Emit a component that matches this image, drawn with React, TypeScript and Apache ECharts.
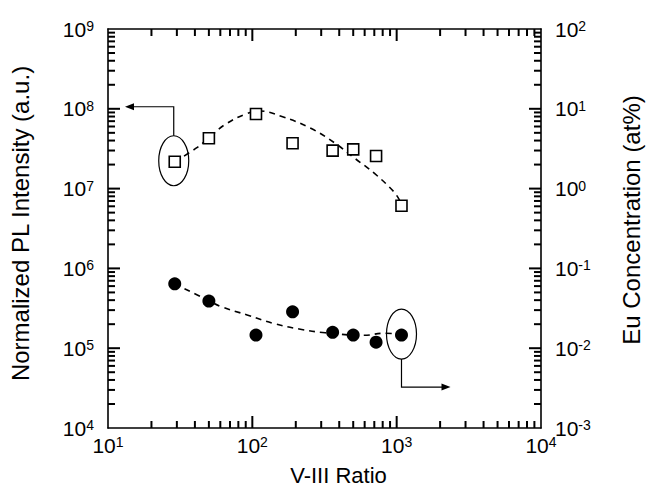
import React, { useEffect, useRef } from "react";
import * as echarts from "echarts";

// ---- data ----
const ratio = [29, 50, 106, 190, 360, 500, 720, 1080];
const plIntensity = [2.17e7, 4.27e7, 8.6e7, 3.7e7, 2.99e7, 3.1e7, 2.56e7, 6.1e6];
const euConc = [0.064, 0.039, 0.0146, 0.0286, 0.0158, 0.0146, 0.0119, 0.0146];

// dashed guide curves
const plFitX = [29, 41, 50, 64, 90, 113, 162, 254, 375, 512, 699, 955, 1047];
const plFitY = [2.17e7, 3.23e7, 4.31e7, 6.27e7, 8.61e7, 9.38e7, 7.96e7, 5.7e7, 3.7e7, 2.4e7, 1.56e7, 9.15e6, 7.19e6];
const euFitX = [29, 50, 61, 92, 139, 211, 320, 596, 813, 1064];
const euFitY = [0.064, 0.0394, 0.0331, 0.0261, 0.0205, 0.0174, 0.0156, 0.0145, 0.0154, 0.0151];

// axis structure
const X_MIN = 10, X_MAX = 10000, Y_MIN = 1e4, Y_MAX = 1e9;
const xMajor = [100, 1000];
const yMajor = [1e5, 1e6, 1e7, 1e8];
const minorMults = [2, 3, 4, 5, 6, 7, 8, 9];
const xMinor = [10, 100, 1000].flatMap((d) => minorMults.map((m) => m * d));
const yMinor = [1e4, 1e5, 1e6, 1e7, 1e8].flatMap((d) => minorMults.map((m) => m * d));

const FONT = "Liberation Sans, Arial, Helvetica, sans-serif";

const labelCfg = (margin: number) => ({
  margin,
  formatter: (v: number) => `{b|10}{s|${Math.round(Math.log10(v))}}`,
  rich: {
    b: { fontSize: 21, fontFamily: FONT, color: "#000", lineHeight: 20, padding: [4, 0, 4, 0] },
    s: { fontSize: 14, fontFamily: FONT, color: "#000", lineHeight: 14, verticalAlign: "top" },
  },
});

const TW = 2;
const TICK_COLOR = "#000";
const axisLineCfg = () => ({ show: true, lineStyle: { color: "#000", width: 1.6 } });

const tickSeries = (data: number[][], size: number[], offset: number[]) => ({
  type: "scatter", symbol: "rect", symbolSize: size, symbolOffset: offset, clip: false,
  itemStyle: { color: TICK_COLOR, opacity: 1 },
  data,
});

export default function App() {
  const ref = useRef<HTMLDivElement>(null);
  useEffect(() => {
    if (!ref.current) return;
    const chart = echarts.init(ref.current, null, { renderer: "svg" });
    const option: any = {
      animation: false,
      backgroundColor: "#fff",
      grid: { left: 104, right: 103, top: 29, bottom: 69 },
      xAxis: [
        {
          type: "log", logBase: 10, min: X_MIN, max: X_MAX, position: "bottom",
          axisLine: axisLineCfg(), axisTick: { show: false }, splitLine: { show: false },
          axisLabel: labelCfg(7),
          name: "V-III Ratio", nameLocation: "middle", nameGap: 35,
          nameTextStyle: { fontSize: 22, fontFamily: FONT, color: "#000", padding: [0, 0, 0, 28] },
        },
        {
          type: "log", logBase: 10, min: X_MIN, max: X_MAX, position: "top",
          axisLine: axisLineCfg(), axisTick: { show: false }, splitLine: { show: false },
          axisLabel: { show: false },
        },
      ],
      yAxis: [
        {
          type: "log", logBase: 10, min: Y_MIN, max: Y_MAX, position: "left",
          axisLine: axisLineCfg(), axisTick: { show: false }, splitLine: { show: false },
          axisLabel: labelCfg(14),
          name: "Normalized PL Intensity (a.u.)", nameLocation: "middle", nameGap: 76, nameRotate: 90,
          nameTextStyle: { fontSize: 24, fontFamily: FONT, color: "#000", padding: [0, 0, 0, 10] },
        },
        {
          type: "log", logBase: 10, min: 1e-3, max: 1e2, position: "right",
          axisLine: axisLineCfg(), axisTick: { show: false }, splitLine: { show: false },
          axisLabel: labelCfg(14),
          name: "Eu Concentration (at%)", nameLocation: "middle", nameGap: 78, nameRotate: 90,
          nameTextStyle: { fontSize: 24, fontFamily: FONT, color: "#000", padding: [0, 0, 0, 17] },
        },
      ],
      series: [
        tickSeries(xMinor.map((v) => [v, Y_MIN]), [TW, 7], [0, -3.5]),
        tickSeries(xMinor.map((v) => [v, Y_MAX]), [TW, 7], [0, 3.5]),
        tickSeries(xMajor.map((v) => [v, Y_MIN]), [TW, 12], [0, -6]),
        tickSeries(xMajor.map((v) => [v, Y_MAX]), [TW, 12], [0, 6]),
        tickSeries(yMinor.map((v) => [X_MIN, v]), [7, TW], [3.5, 0]),
        tickSeries(yMinor.map((v) => [X_MAX, v]), [7, TW], [-3.5, 0]),
        tickSeries(yMajor.map((v) => [X_MIN, v]), [12, TW], [6, 0]),
        tickSeries(yMajor.map((v) => [X_MAX, v]), [12, TW], [-6, 0]),
        {
          type: "line", xAxisIndex: 0, yAxisIndex: 0, symbol: "none", smooth: 0.4,
          data: plFitX.map((x, i) => [x, plFitY[i]]),
          lineStyle: { color: "#000", width: 1.6, type: [6, 5] },
        },
        {
          type: "line", xAxisIndex: 0, yAxisIndex: 1, symbol: "none", smooth: 0.4,
          data: euFitX.map((x, i) => [x, euFitY[i]]),
          lineStyle: { color: "#000", width: 1.6, type: [6, 5] },
        },
        {
          type: "scatter", xAxisIndex: 0, yAxisIndex: 0, symbol: "rect", symbolSize: 11, z: 3,
          data: ratio.map((x, i) => [x, plIntensity[i]]),
          itemStyle: { color: "#fff", borderColor: "#000", borderWidth: 1.6, opacity: 1 },
        },
        {
          type: "scatter", xAxisIndex: 0, yAxisIndex: 1, symbol: "circle", symbolSize: 13, z: 3,
          data: ratio.map((x, i) => [x, euConc[i]]),
          itemStyle: { color: "#000", opacity: 1 },
        },
      ],
    };
    chart.setOption(option);

    // annotations anchored on data points
    const px = (v: number[], yi = 0) => chart.convertToPixel({ xAxisIndex: 0, yAxisIndex: yi }, v) as number[];
    const L = px([X_MIN, Y_MIN])[0];
    const p1 = px([ratio[0], plIntensity[0]]);
    const p2 = px([ratio[7], euConc[7]], 1);
    const st = { stroke: "#000", lineWidth: 1.2, fill: "none" };
    const ay1 = p1[1] - 55;
    const tip1 = L + 17;
    const ay2 = p2[1] + 52;
    const tip2 = p2[0] + 49;
    chart.setOption({
      graphic: [
        { type: "ellipse", shape: { cx: p1[0] - 1, cy: p1[1] - 1, rx: 15, ry: 25 }, style: st, z: 10 },
        { type: "polyline", shape: { points: [[p1[0] - 1, p1[1] - 26], [p1[0] - 1, ay1], [tip1 + 8, ay1]] }, style: st, z: 10 },
        { type: "polygon", shape: { points: [[tip1, ay1], [tip1 + 9, ay1 - 3.5], [tip1 + 9, ay1 + 3.5]] }, style: { fill: "#000" }, z: 10 },
        { type: "ellipse", shape: { cx: p2[0], cy: p2[1] - 1, rx: 15, ry: 25 }, style: st, z: 10 },
        { type: "polyline", shape: { points: [[p2[0], p2[1] + 24], [p2[0], ay2], [tip2 - 8, ay2]] }, style: st, z: 10 },
        { type: "polygon", shape: { points: [[tip2, ay2], [tip2 - 9, ay2 - 3.5], [tip2 - 9, ay2 + 3.5]] }, style: { fill: "#000" }, z: 10 },
      ],
    });
    return () => chart.dispose();
  }, []);
  return (
    <div
      ref={ref}
      style={{ position: "absolute", left: 0, top: 0, width: 651, height: 497, background: "#fff" }}
    />
  );
}
